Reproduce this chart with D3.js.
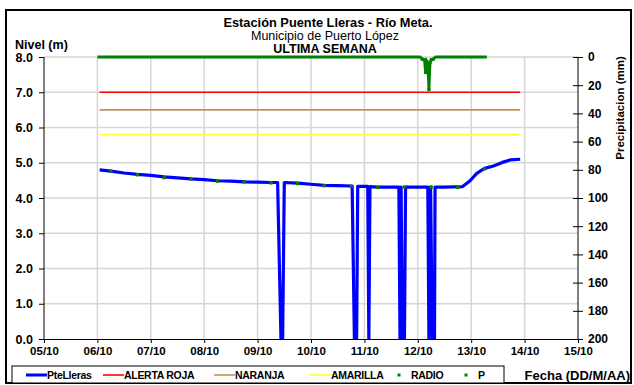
<!DOCTYPE html>
<html>
<head>
<meta charset="utf-8">
<script src="https://cdn.jsdelivr.net/npm/d3@7"></script>
<style>
  html, body { margin: 0; padding: 0; background: #fff; }
  svg { display: block; font-family: 'Liberation Sans', Arial, sans-serif; }
</style>
</head>
<body>
<div id="chart"></div>
<script>
'use strict';

// --- datos ---
var nivelFechas = [
    '06/10 01:00', '06/10 06:00', '06/10 12:00', '06/10 18:00',
    '07/10 00:00', '07/10 06:00', '07/10 12:00', '07/10 18:00',
    '08/10 00:00', '08/10 06:00', '08/10 12:00', '08/10 18:00',
    '09/10 00:00', '09/10 06:00', '09/10 09:00', '09/10 10:30', '09/10 11:15', '09/10 12:00', '09/10 18:00',
    '10/10 00:00', '10/10 06:00', '10/10 12:00', '10/10 18:30', '10/10 19:30', '10/10 20:30', '10/10 21:00',
    '11/10 01:30', '11/10 02:00', '11/10 02:30', '11/10 06:00', '11/10 12:00',
    '11/10 15:30', '11/10 16:00', '11/10 16:30', '11/10 17:00', '11/10 18:00', '11/10 18:30',
    '12/10 00:00', '12/10 04:30', '12/10 05:00', '12/10 05:45', '12/10 06:30', '12/10 07:30', '12/10 07:45',
    '12/10 12:00', '12/10 20:00', '12/10 23:30', '13/10 02:30', '13/10 06:00', '13/10 10:00',
    '13/10 14:00', '13/10 17:30', '13/10 22:00'
];
var nivelValores = [
    4.80, 4.76, 4.71, 4.67,
    4.64, 4.60, 4.57, 4.54,
    4.52, 4.49, 4.48, 4.46,
    4.45, 4.44, 4.44, 0, 0, 4.44, 4.42,
    4.39, 4.36, 4.35, 4.34, 0, 0, 4.33,
    4.33, 0, 4.32, 4.31, 4.31,
    4.31, 0, 4.31, 0, 0, 4.31,
    4.31, 4.31, 0, 4.31, 0, 0, 4.31,
    4.31, 4.32, 4.49, 4.70, 4.84, 4.91,
    5.01, 5.08, 5.10
];

var radioFechas = [
    '06/10 06:00', '06/10 18:00', '07/10 06:00', '07/10 18:00', '08/10 06:00',
    '08/10 18:00', '09/10 06:00', '09/10 18:00', '10/10 06:00', '10/10 18:00',
    '11/10 06:00', '11/10 18:00', '12/10 06:00', '12/10 18:00', '13/10 06:00'
];
var radioValores = [4.76, 4.66, 4.58, 4.54, 4.48, 4.46, 4.43, 4.41, 4.35, 4.33, 4.30, 4.31, 4.31, 4.30, 4.83];

var alertaFechas = ['06/10 01:00', '13/10 22:00'];
var alertaRoja = [7.0, 7.0];
var alertaNaranja = [6.5, 6.5];
var alertaAmarilla = [5.8, 5.8];

var lluviaFechas = [
    '06/10 00:00', '12/10 01:00', '12/10 02:00', '12/10 03:00', '12/10 03:30', '12/10 04:00',
    '12/10 04:30', '12/10 05:00', '12/10 05:30', '12/10 06:00', '12/10 07:00', '12/10 08:00', '13/10 07:00'
];
var lluviaValores = [0, 0, 1.5, 2, 11, 3, 4.5, 23, 4, 2, 1.5, 0, 0];

var nivelTicks = [0, 1, 2, 3, 4, 5, 6, 7, 8];
var lluviaTicks = [0, 20, 40, 60, 80, 100, 120, 140, 160, 180, 200];
var fechaInicio = '05/10 00:00';
var fechaFin = '15/10 00:00';

var serieNombres = ['PteLleras', 'ALERTA ROJA', 'NARANJA', 'AMARILLA', 'RADIO', 'P'];

// --- dibujo ---
var width = 634;
var height = 385;
var mLeft = 44, mRight = 578, mTop = 57, mBottom = 339;
var verde = '#008000';

var parse = d3.timeParse('%d/%m %H:%M');
var svg = d3.select('#chart').append('svg')
    .attr('width', width)
    .attr('height', height);

var x = d3.scaleTime().domain([parse(fechaInicio), parse(fechaFin)]).range([mLeft, mRight]);
var yN = d3.scaleLinear().domain([0, 8]).range([mBottom, mTop]);
var yP = d3.scaleLinear().domain([0, 200]).range([mTop, mBottom]);

function pares(fechas, valores) {
    return fechas.map(function(f, i) {
        return { t: parse(f), v: valores[i] };
    });
}

// marco exterior
svg.append('rect')
    .attr('x', 6).attr('y', 10)
    .attr('width', 625).attr('height', 373)
    .attr('fill', 'none').attr('stroke', '#000').attr('stroke-width', 2);

// rejilla
var grid = svg.append('g').attr('stroke', '#d6d6d6').attr('stroke-width', 1.5);
nivelTicks.slice(1).forEach(function(d) {
    grid.append('line')
        .attr('x1', mLeft).attr('x2', mRight)
        .attr('y1', yN(d)).attr('y2', yN(d));
});
x.ticks(d3.timeDay.every(1)).slice(1, -1).forEach(function(d) {
    grid.append('line')
        .attr('x1', x(d)).attr('x2', x(d))
        .attr('y1', mTop).attr('y2', mBottom);
});

// ejes
var axisFont = function(size) {
    return function(g) {
        g.selectAll('text')
            .attr('font-size', size)
            .attr('font-weight', 'bold')
            .attr('fill', '#000');
        g.selectAll('line, path').attr('stroke', '#000');
    };
};

svg.append('g')
    .attr('transform', 'translate(' + mLeft + ',0)')
    .call(d3.axisLeft(yN).tickValues(nivelTicks).tickFormat(d3.format('.1f')).tickSize(5).tickSizeOuter(0).tickPadding(6))
    .call(axisFont(12.5))
    .call(function(g) { g.select('.domain').remove(); })
    .append('line')
    .attr('x1', 0).attr('x2', 0).attr('y1', mTop).attr('y2', mBottom)
    .attr('stroke', '#000');

var ejeP = svg.append('g')
    .attr('transform', 'translate(' + mRight + ',0)')
    .call(d3.axisRight(yP).tickValues(lluviaTicks).tickSize(5).tickSizeOuter(0).tickPadding(5))
    .call(axisFont(12));
ejeP.select('.domain').remove();
ejeP.selectAll('.tick line').attr('x1', -5);
ejeP.append('line')
    .attr('x1', 0).attr('x2', 0).attr('y1', mTop).attr('y2', mBottom)
    .attr('stroke', '#000');

svg.append('g')
    .attr('transform', 'translate(0,' + mBottom + ')')
    .call(d3.axisBottom(x).ticks(d3.timeDay.every(1)).tickFormat(d3.timeFormat('%d/%m')).tickSize(4).tickSizeOuter(0).tickPadding(4))
    .call(axisFont(11.5));

// umbrales de alerta
var lineaN = d3.line()
    .x(function(d) { return x(d.t); })
    .y(function(d) { return yN(d.v); });

[[alertaRoja, '#ff0000'], [alertaNaranja, '#c0925f'], [alertaAmarilla, '#ffff33']].forEach(function(a) {
    svg.append('path')
        .datum(pares(alertaFechas, a[0]))
        .attr('d', lineaN)
        .attr('fill', 'none')
        .attr('stroke', a[1])
        .attr('stroke-width', 1.6);
});

// nivel
svg.append('clipPath').attr('id', 'plot')
    .append('rect')
    .attr('x', mLeft).attr('y', mTop - 10)
    .attr('width', mRight - mLeft).attr('height', mBottom - mTop + 10);

svg.append('path')
    .datum(pares(nivelFechas, nivelValores))
    .attr('d', lineaN)
    .attr('clip-path', 'url(#plot)')
    .attr('fill', 'none')
    .attr('stroke', '#0000ff')
    .attr('stroke-width', 3.2)
    .attr('stroke-linejoin', 'round');

// radio
svg.append('g').selectAll('rect')
    .data(pares(radioFechas, radioValores))
    .join('rect')
    .attr('x', function(d) { return x(d.t) - 1.7; })
    .attr('y', function(d) { return yN(d.v) - 1.7; })
    .attr('width', 3.4).attr('height', 3.4)
    .attr('fill', verde);

// precipitacion
var lineaP = d3.line()
    .x(function(d) { return x(d.t); })
    .y(function(d) { return yP(d.v); });
var lluvia = pares(lluviaFechas, lluviaValores);
svg.append('path')
    .datum(lluvia)
    .attr('d', lineaP)
    .attr('fill', 'none')
    .attr('stroke', verde)
    .attr('stroke-width', 2.8);
svg.append('g').selectAll('rect')
    .data(lluvia.filter(function(d) { return d.v > 0; }))
    .join('rect')
    .attr('x', function(d) { return x(d.t) - 1.6; })
    .attr('y', function(d) { return yP(d.v) - 1.6; })
    .attr('width', 3.2).attr('height', 3.2)
    .attr('fill', verde);

// titulos
var titulo = svg.append('g').attr('text-anchor', 'middle').attr('fill', '#000');
titulo.append('text').attr('x', 328).attr('y', 27)
    .attr('font-size', 12.8).attr('font-weight', 'bold')
    .text('Estación Puente Lleras - Río Meta.');
titulo.append('text').attr('x', 325).attr('y', 39.5)
    .attr('font-size', 12.5)
    .text('Municipio de Puerto López');
titulo.append('text').attr('x', 325).attr('y', 52.5)
    .attr('font-size', 12.5).attr('font-weight', 'bold')
    .text('ULTIMA SEMANA');

svg.append('text').attr('x', 15).attr('y', 49)
    .attr('font-size', 12.5).attr('font-weight', 'bold')
    .text('Nivel (m)');

svg.append('text')
    .attr('transform', 'translate(624,108) rotate(-90)')
    .attr('text-anchor', 'middle')
    .attr('font-size', 11.5).attr('font-weight', 'bold')
    .text('Precipitacion (mm)');

svg.append('text').attr('x', 630).attr('y', 380)
    .attr('text-anchor', 'end')
    .attr('font-size', 13).attr('font-weight', 'bold')
    .text('Fecha (DD/M/AA)');

// leyenda
var leyendaX = [26, 103, 214, 310, 399, 466];
var leyendaColor = ['#0000ff', '#ff0000', '#c0925f', '#ffff33', verde, verde];
var leyendaAncho = [3, 1.6, 1.6, 1.6, 0, 0];
var leyenda = svg.append('g');
leyenda.append('rect')
    .attr('x', 12).attr('y', 366)
    .attr('width', 492).attr('height', 17)
    .attr('fill', '#fff').attr('stroke', '#000').attr('stroke-width', 1);
serieNombres.forEach(function(n, i) {
    var lx = leyendaX[i];
    var tx;
    if (leyendaAncho[i] > 0) {
        leyenda.append('line')
            .attr('x1', lx).attr('x2', lx + 21)
            .attr('y1', 375).attr('y2', 375)
            .attr('stroke', leyendaColor[i])
            .attr('stroke-width', leyendaAncho[i]);
        tx = lx + 21;
    } else {
        leyenda.append('rect')
            .attr('x', lx - 1.5).attr('y', 373.5)
            .attr('width', 3).attr('height', 3)
            .attr('fill', leyendaColor[i]);
        tx = lx + 12;
    }
    leyenda.append('text')
        .attr('x', tx).attr('y', 379)
        .attr('font-size', 10.5).attr('font-weight', 'bold')
        .attr('letter-spacing', -0.3)
        .text(n);
});
</script>
</body>
</html>
